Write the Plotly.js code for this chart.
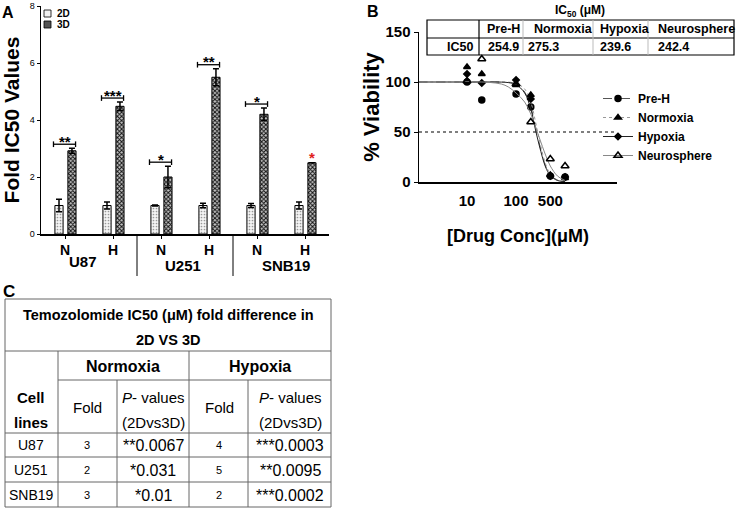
<!DOCTYPE html>
<html><head><meta charset="utf-8">
<script src="https://cdn.plot.ly/plotly-3.0.1.min.js"></script>
<style>html,body{margin:0;padding:0;background:#fff}#chart{width:738px;height:512px}</style>
</head><body><div id="chart"></div>
<script>
// ---------- Panel A data ----------
const groupLabels = ['N','H','N','H','N','H'];
const cellLines = ['U87','U251','SNB19'];
const seriesNames = ['2D','3D'];
const fold2D = [1.0, 1.0, 1.0, 1.0, 1.0, 1.0];
const err2D  = [0.22, 0.12, 0.02, 0.08, 0.07, 0.12];
const fold3D = [2.92, 4.48, 2.0, 5.5, 4.2, 2.5];
const err3D  = [0.09, 0.15, 0.38, 0.3, 0.22, null];
const sigLabels  = ['**','***','*','**','*','*'];
const sigBracket = [true, true, true, true, true, false];
const yTicksA = [0, 2, 4, 6, 8];

// ---------- Panel B data ----------
const bNames = ['Pre-H','Normoxia','Hypoxia','Neurosphere'];
const concs = [1, 10, 20, 100, 200, 500, 1000];
const viabPreH     = [100, 100, 82, 88, 75, 6, 5];
const viabNormoxia = [100, 115, 108, 97, 87, 7, 4];
const viabHypoxia  = [100, 108, 99, 102, 83, 6, 5];
const viabNeuro    = [100, 101, 123, 98, 60, 23, 16];
const curveConc = [1, 10, 20, 30, 50, 70, 100, 150, 200, 250, 300, 400, 500, 700, 1000];
const fitPreH     = [100, 100, 100, 100, 100, 99.5, 98, 90, 75, 55, 38, 16, 7, 2, 0.5];
const fitNormoxia = [100, 100, 100, 100, 100, 99.8, 98.8, 93, 80, 60, 42, 18, 8, 2, 0.5];
const fitHypoxia  = [100, 100, 100, 100, 99.9, 99.4, 97.5, 89, 73, 52, 36, 15, 6.5, 1.5, 0.4];
const fitNeuro    = [100, 100, 100, 99.5, 98, 95, 89, 80, 68, 55, 44, 27, 16, 6, 1.5];
const xTickValsB = [10, 100, 500];
const yTicksB = [0, 50, 100, 150];
const ic50Cols = ['Pre-H','Normoxia','Hypoxia','Neurosphere'];
const ic50Vals = [254.9, 275.3, 239.6, 242.4];

// ---------- Panel C data ----------
const tableTitle = ['Temozolomide IC50 (μM) fold difference in', '2D VS 3D'];
const condNames = ['Normoxia','Hypoxia'];
const tableCells = ['U87','U251','SNB19'];
const foldNorm = [3, 2, 3];
const pNorm = ['**0.0067', '*0.031', '*0.01'];
const foldHyp = [4, 5, 2];
const pHyp = ['***0.0003', '**0.0095', '***0.0002'];

// ---------- helpers ----------
const W = 738, H = 512;
const fx = x => x / W;
const fy = y => 1 - y / H;
const FONT = 'Liberation Sans, Arial, sans-serif';
const idx = groupLabels.map((_, i) => i);

const traces = [];
// Panel A bars
traces.push({
  type: 'bar', name: seriesNames[0], x: idx, y: fold2D, xaxis: 'x', yaxis: 'y',
  width: 0.17, offset: -0.21, showlegend: false,
  marker: {color: '#f2f2f2', line: {color: '#000', width: 1},
    pattern: {shape: '.', size: 3, solidity: 0.25, fgcolor: '#999', bgcolor: '#f4f4f4'}},
  error_y: {type: 'data', array: err2D, visible: true, color: '#000', thickness: 1.5, width: 3}
});
traces.push({
  type: 'bar', name: seriesNames[1], x: idx, y: fold3D, xaxis: 'x', yaxis: 'y',
  width: 0.17, offset: 0.06, showlegend: false,
  marker: {color: '#555', line: {color: '#000', width: 1},
    pattern: {shape: 'x', size: 3, solidity: 0.55, fgcolor: '#111', bgcolor: '#c4c4c4'}},
  error_y: {type: 'data', array: err3D, visible: true, color: '#000', thickness: 1.5, width: 3}
});

// Panel B
const bStyles = [
  {sym: 'circle', size: 6, lc: '#555', dash: 'dash'},
  {sym: 'triangle-up', size: 6, lc: '#999', dash: 'dot'},
  {sym: 'diamond', size: 5, lc: '#222', dash: 'solid'},
  {sym: 'triangle-up-open', size: 7, lc: '#888', dash: 'solid'}
];
const bPts = [viabPreH, viabNormoxia, viabHypoxia, viabNeuro];
const bFits = [fitPreH, fitNormoxia, fitHypoxia, fitNeuro];
bNames.forEach((nm, k) => {
  const s = bStyles[k];
  traces.push({type: 'scatter', mode: 'lines', x: curveConc, y: bFits[k], xaxis: 'x2', yaxis: 'y2',
    line: {color: s.lc, width: 1, dash: s.dash, shape: 'spline'}, showlegend: false, hoverinfo: 'skip', name: nm + ' fit'});
  traces.push({type: 'scatter', mode: 'markers', x: concs, y: bPts[k], xaxis: 'x2', yaxis: 'y2',
    marker: {symbol: s.sym, size: s.size, color: '#000', line: {color: '#000', width: 1.5}},
    showlegend: false, cliponaxis: false, name: nm});
  // legend entry (no data)
  traces.push({type: 'scatter', mode: 'lines+markers', x: [null], y: [null], xaxis: 'x2', yaxis: 'y2',
    name: nm, legend: 'legend2',
    marker: {symbol: s.sym, size: s.size, color: '#000', line: {color: '#000', width: 1.5}},
    line: {color: s.lc, width: 1, dash: s.dash}});
});

const shapes = [];
const annotations = [];
const lineBlack = {color: '#000', width: 1};

// Panel letters
annotations.push({xref: 'paper', yref: 'paper', x: fx(8), y: fy(12), text: 'A', showarrow: false,
  font: {size: 16, weight: 700, color: '#000'}});
annotations.push({xref: 'paper', yref: 'paper', x: fx(373), y: fy(11), text: 'B', showarrow: false,
  font: {size: 16, weight: 700, color: '#000'}});
annotations.push({xref: 'paper', yref: 'paper', x: fx(9), y: fy(291), text: 'C', showarrow: false,
  font: {size: 17, weight: 700, color: '#000'}});

// Panel A: significance brackets and stars
idx.forEach(i => {
  const top = fold3D[i] + (err3D[i] || 0);
  if (sigBracket[i]) {
    const yb = top + 0.14;
    shapes.push({type: 'line', xref: 'x', yref: 'y', x0: i - 0.24, x1: i + 0.22, y0: yb, y1: yb, line: {color: '#000', width: 1.3}});
    shapes.push({type: 'line', xref: 'x', yref: 'y', x0: i - 0.24, x1: i - 0.24, y0: yb - 0.1, y1: yb + 0.1, line: {color: '#000', width: 1.3}});
    shapes.push({type: 'line', xref: 'x', yref: 'y', x0: i + 0.22, x1: i + 0.22, y0: yb - 0.1, y1: yb + 0.1, line: {color: '#000', width: 1.3}});
    annotations.push({xref: 'x', yref: 'y', x: i - 0.01, y: yb, yshift: 3, text: sigLabels[i],
      showarrow: false, font: {size: 15, weight: 700, color: '#000'}});
  } else {
    annotations.push({xref: 'x', yref: 'y', x: i + 0.145, y: top, yshift: 5, text: sigLabels[i],
      showarrow: false, font: {size: 15, weight: 700, color: '#e0201b'}});
  }
});
// group separators and cell-line labels
[1.5, 3.5].forEach(xs => shapes.push({type: 'line', xref: 'x', yref: 'paper', x0: xs, x1: xs, y0: fy(234), y1: fy(276), line: lineBlack}));
const groupLabelPos = [[0.38, 261], [2.45, 265], [4.6, 265]];
cellLines.forEach((c, g) => annotations.push({xref: 'x', yref: 'paper', x: groupLabelPos[g][0], y: fy(groupLabelPos[g][1]),
  text: c, showarrow: false, font: {size: 15, weight: 700, color: '#000'}}));
// Panel A legend (custom)
const legBoxY = [[10, 17], [21, 28]];
const legFill = ['#f0f0f0', '#555'];
seriesNames.forEach((s, k) => {
  shapes.push({type: 'rect', xref: 'paper', yref: 'paper', x0: fx(44), x1: fx(51), y0: fy(legBoxY[k][1]), y1: fy(legBoxY[k][0]),
    fillcolor: legFill[k], line: {color: '#000', width: 0.8}});
  annotations.push({xref: 'paper', yref: 'paper', x: fx(55), y: fy((legBoxY[k][0] + legBoxY[k][1]) / 2), xanchor: 'left',
    text: s, showarrow: false, font: {size: 10, weight: 700, color: '#000'}});
});

// Panel B: 50% dotted line
shapes.push({type: 'line', xref: 'x2 domain', yref: 'y2', x0: 0, x1: 1, y0: 50, y1: 50, line: {color: '#000', width: 1.2, dash: 'dot'}});
// Panel B: IC50 table
annotations.push({xref: 'paper', yref: 'paper', x: fx(580), y: fy(11), text: 'IC<sub>50</sub> (μM)', showarrow: false,
  font: {size: 12, weight: 700, color: '#000'}});
shapes.push({type: 'rect', xref: 'paper', yref: 'paper', x0: fx(427), x1: fx(734), y0: fy(55), y1: fy(20), line: {color: '#000', width: 1.2}});
shapes.push({type: 'line', xref: 'paper', yref: 'paper', x0: fx(427), x1: fx(734), y0: fy(38), y1: fy(38), line: {color: '#000', width: 1.2}});
shapes.push({type: 'line', xref: 'paper', yref: 'paper', x0: fx(479), x1: fx(479), y0: fy(20), y1: fy(55), line: {color: '#000', width: 1.2}});
[523, 593, 648].forEach(xv => shapes.push({type: 'line', xref: 'paper', yref: 'paper', x0: fx(xv), x1: fx(xv), y0: fy(20), y1: fy(55), line: {color: '#bbb', width: 1}}));
const colHeadX = [485, 532, 598, 656];
const colValX = [486, 526, 598, 656];
ic50Cols.forEach((c, k) => {
  annotations.push({xref: 'paper', yref: 'paper', x: fx(colHeadX[k]), y: fy(29), xanchor: 'left', text: c, showarrow: false,
    font: {size: 12.5, weight: 700, color: '#000'}});
  annotations.push({xref: 'paper', yref: 'paper', x: fx(colValX[k]), y: fy(47), xanchor: 'left', text: ic50Vals[k].toFixed(1), showarrow: false,
    font: {size: 12.5, weight: 700, color: '#000'}});
});
annotations.push({xref: 'paper', yref: 'paper', x: fx(475), y: fy(47), xanchor: 'right', text: 'IC50', showarrow: false,
  font: {size: 12.5, weight: 700, color: '#000'}});

// Panel C table
const tl = {color: '#666', width: 1};
const hl = (y, x0, x1) => shapes.push({type: 'line', xref: 'paper', yref: 'paper', x0: fx(x0), x1: fx(x1), y0: fy(y), y1: fy(y), line: tl});
const vl = (x, y0, y1) => shapes.push({type: 'line', xref: 'paper', yref: 'paper', x0: fx(x), x1: fx(x), y0: fy(y0), y1: fy(y1), line: tl});
shapes.push({type: 'rect', xref: 'paper', yref: 'paper', x0: fx(5), x1: fx(331), y0: fy(507), y1: fy(299), line: tl});
hl(351, 5, 331); hl(380, 58, 331); hl(433, 5, 331); hl(457, 5, 331); hl(482, 5, 331);
vl(58, 351, 507); vl(189, 351, 507); vl(117, 380, 507); vl(248, 380, 507);
const cTxt = (x, y, t, size, bold) => annotations.push({xref: 'paper', yref: 'paper', x: fx(x), y: fy(y), text: t, showarrow: false,
  font: {size: size, weight: bold ? 700 : 400, color: '#000'}});
cTxt(168, 315, tableTitle[0], 14.5, true);
cTxt(168, 340, tableTitle[1], 14.5, true);
cTxt(123, 366, condNames[0], 16, true);
cTxt(260, 366, condNames[1], 16, true);
cTxt(31, 397, 'Cell', 15, true);
cTxt(31, 422, 'lines', 15, true);
[[87, 153], [219, 290]].forEach(([fxp, pxp]) => {
  cTxt(fxp, 407, 'Fold', 15, false);
  cTxt(pxp, 397, '<i>P</i>- values', 15, false);
  cTxt(pxp, 422, '(2Dvs3D)', 15, false);
});
const rowY = [445, 470, 495];
tableCells.forEach((c, r) => {
  cTxt(31, rowY[r], c, 14, false);
  cTxt(87, rowY[r], String(foldNorm[r]), 11, false);
  cTxt(153, rowY[r], pNorm[r], 16, false);
  cTxt(219, rowY[r], String(foldHyp[r]), 11, false);
  cTxt(290, rowY[r], pHyp[r], 16, false);
});
// explicit anchoring for every annotation
annotations.forEach(a => {
  if (!a.xanchor) a.xanchor = 'center';
  if (!a.yanchor) a.yanchor = 'middle';
});

const axBase = {showgrid: false, zeroline: false, showline: true, linecolor: '#000', linewidth: 1.5,
  tickcolor: '#000', fixedrange: true, automargin: false};
const layout = {
  width: W, height: H, margin: {l: 0, r: 0, t: 0, b: 0}, paper_bgcolor: '#fff', plot_bgcolor: 'rgba(0,0,0,0)',
  font: {family: FONT, color: '#000'}, barmode: 'overlay', showlegend: true,
  xaxis: Object.assign({}, axBase, {domain: [fx(41), fx(329)], range: [-0.5, 5.5], tickvals: idx, ticktext: groupLabels,
    ticks: 'outside', ticklen: 3, tickwidth: 1, tickfont: {size: 14, weight: 700}, anchor: 'y'}),
  yaxis: Object.assign({}, axBase, {domain: [fy(234), fy(6)], range: [0, 8], tickvals: yTicksA, ticks: 'outside', ticklen: 3,
    tickfont: {size: 9}, anchor: 'x', title: {text: 'Fold IC50 Values', font: {size: 21, weight: 700}, standoff: 6}}),
  xaxis2: Object.assign({}, axBase, {domain: [fx(419), fx(617)], type: 'log', range: [0.02, 4.06], tickvals: xTickValsB,
    ticktext: xTickValsB.map(String), ticks: '', ticklabelstandoff: 4, tickfont: {size: 15, weight: 700}, anchor: 'y2',
    title: {text: '[Drug Conc](μM)', font: {size: 18, weight: 700}, standoff: 22}}),
  yaxis2: Object.assign({}, axBase, {domain: [fy(182), fy(32)], range: [0, 150], tickvals: yTicksB, ticks: 'outside', ticklen: 4,
    tickfont: {size: 15, weight: 700}, anchor: 'x2', title: {text: '% Viability', font: {size: 22, weight: 700}, standoff: 0}}),
  legend2: {x: fx(598), y: fy(84), xanchor: 'left', yanchor: 'top', bgcolor: 'rgba(0,0,0,0)', font: {size: 12, weight: 700},
    tracegroupgap: 0},
  shapes: shapes, annotations: annotations
};
Plotly.newPlot('chart', traces, layout, {staticPlot: true, displayModeBar: false});
</script>
</body></html>
